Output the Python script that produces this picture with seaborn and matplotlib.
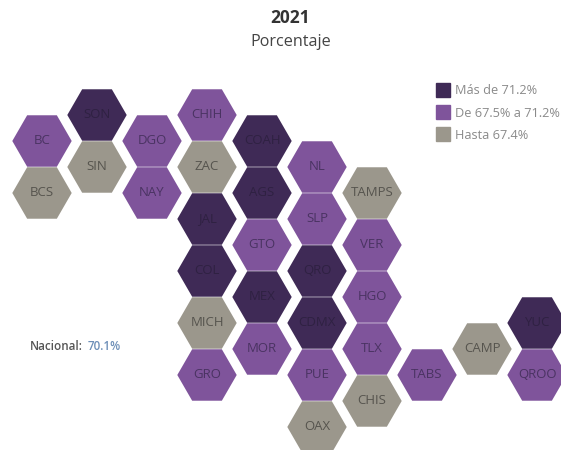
import pandas as pd
import seaborn as sns
import matplotlib.pyplot as plt
from matplotlib.lines import Line2D

# estados, posicion en la malla hexagonal y categoria
ESTADOS = ['BC', 'BCS', 'SON', 'SIN', 'DGO', 'NAY', 'CHIH', 'ZAC', 'JAL', 'COL', 'MICH', 'GRO',
           'COAH', 'AGS', 'GTO', 'MEX', 'MOR', 'NL', 'SLP', 'QRO', 'CDMX', 'PUE', 'OAX',
           'TAMPS', 'VER', 'HGO', 'TLX', 'CHIS', 'TABS', 'CAMP', 'YUC', 'QROO']
COLUMNA = [0, 0, 1, 1, 2, 2, 3, 3, 3, 3, 3, 3,
           4, 4, 4, 4, 4, 5, 5, 5, 5, 5, 5,
           6, 6, 6, 6, 6, 7, 8, 9, 9]
FILA = [1, 3, 0, 2, 1, 3, 0, 2, 4, 6, 8, 10,
        1, 3, 5, 7, 9, 2, 4, 6, 8, 10, 12,
        3, 5, 7, 9, 11, 10, 9, 8, 10]
NIVEL = [1, 2, 0, 2, 1, 1, 1, 2, 0, 0, 2, 1,
         0, 0, 1, 0, 1, 1, 1, 0, 0, 1, 2,
         2, 1, 1, 1, 2, 1, 2, 0, 1]
CATEGORIAS = ['Más de 71.2%', 'De 67.5% a 71.2%', 'Hasta 67.4%']
COLORES = ['#3f2a56', '#7f549b', '#9b978c']
COLOR_TEXTO = ['#2f2142', '#4a3362', '#56544e']

sns.set_theme(style='white')
plt.rcParams['font.family'] = ['Open Sans', 'DejaVu Sans']

df = pd.DataFrame({'estado': ESTADOS, 'columna': COLUMNA, 'fila': FILA,
                   'categoria': [CATEGORIAS[n] for n in NIVEL]})

fig, ax = plt.subplots(figsize=(5.61, 4.5), dpi=100)
ax.set_position([0, 0, 1, 1])

sns.scatterplot(data=df, x='columna', y='fila', hue='categoria', hue_order=CATEGORIAS,
                palette=COLORES, marker='H', s=1830, linewidth=0, legend=False, ax=ax, clip_on=False)

for _, fila in df.iterrows():
    ax.text(fila['columna'], fila['fila'], fila['estado'], ha='center', va='center', fontsize=9.5,
            color=COLOR_TEXTO[CATEGORIAS.index(fila['categoria'])])

ax.set_xlim(-0.7636, 9.436)
ax.set_ylim(12.885, -4.423)
ax.axis('off')

fig.text(290 / 561, 1 - 18 / 450, '2021', ha='center', va='center', fontsize=12.5, fontweight='bold', color='#333333')
fig.text(290.5 / 561, 1 - 42 / 450, 'Porcentaje', ha='center', va='center', fontsize=11.6, color='#444444')

fig.text(30 / 561, 1 - 347 / 450, 'Nacional:', ha='left', va='center', fontsize=8.4, fontweight='semibold', color='#555555')
fig.text(88 / 561, 1 - 347 / 450, '70.1%', ha='left', va='center', fontsize=8.4, fontweight='semibold', color='#6d8fb8')

handles = [Line2D([], [], linestyle='', marker='s', markersize=10.5, color=c, label=l)
           for c, l in zip(COLORES, CATEGORIAS)]
ley = ax.legend(handles=handles, loc='upper left', bbox_to_anchor=(432 / 561, 1 - 84.5 / 450), frameon=False,
                fontsize=9.2, labelspacing=0.72, handlelength=1.7, handletextpad=0.1, borderpad=0, borderaxespad=0)
for t in ley.get_texts():
    t.set_color('#8a8a8a')

fig.savefig('out.png', dpi=100)
